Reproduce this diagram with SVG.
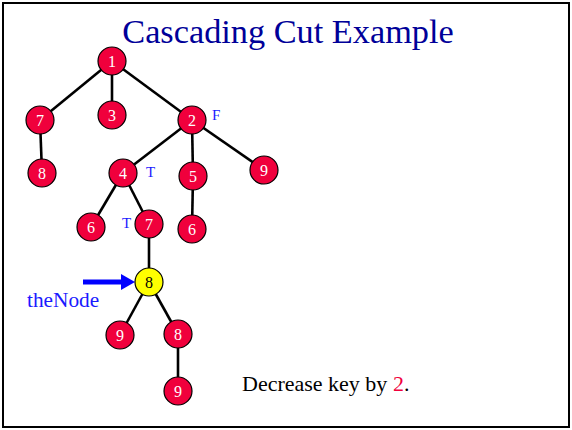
<svg xmlns="http://www.w3.org/2000/svg" width="572" height="430" viewBox="0 0 572 430">
<defs>
<style>
.n circle{fill:#f0003c;stroke:#000;stroke-width:1.2}
.n text{font-family:"Liberation Serif",serif;font-size:16px;fill:#fff;text-anchor:middle}
.y circle{fill:#ffff00}
.y text{fill:#000}
.e line{stroke:#000;stroke-width:2.6}
.lbl{font-family:"Liberation Serif",serif;fill:#1a1aff}
</style>
</defs>
<rect x="3" y="3" width="566" height="424" fill="#fff" stroke="#000" stroke-width="2"/>
<text x="288" y="43" font-family="Liberation Serif, serif" font-size="34.3" fill="#000099" text-anchor="middle">Cascading Cut Example</text>
<g id="connectors" class="e">
<line x1="112" y1="61" x2="40" y2="120"/>
<line x1="112" y1="61" x2="112" y2="115"/>
<line x1="112" y1="61" x2="192" y2="120"/>
<line x1="40" y1="120" x2="42" y2="173"/>
<line x1="192" y1="120" x2="123" y2="173"/>
<line x1="192" y1="120" x2="193" y2="176"/>
<line x1="192" y1="120" x2="264" y2="170"/>
<line x1="123" y1="173" x2="91" y2="227"/>
<line x1="123" y1="173" x2="149" y2="224"/>
<line x1="193" y1="176" x2="192" y2="229"/>
<line x1="149" y1="224" x2="149" y2="282"/>
<line x1="149" y1="282" x2="120" y2="335"/>
<line x1="149" y1="282" x2="178" y2="334"/>
<line x1="178" y1="334" x2="178" y2="391"/>
</g>
<g id="arrow">
<rect x="83" y="279.5" width="41" height="5" fill="#0000ff"/>
<polygon points="121,274 135,282 121,290" fill="#0000ff"/>
</g>
<g id="n1" class="n"><circle cx="112" cy="61" r="14"/><text x="112" y="66.5">1</text></g>
<g id="n7a" class="n"><circle cx="40" cy="120" r="14"/><text x="40" y="125.5">7</text></g>
<g id="n3" class="n"><circle cx="112" cy="115" r="14"/><text x="112" y="120.5">3</text></g>
<g id="n2" class="n"><circle cx="192" cy="120" r="14"/><text x="192" y="125.5">2</text></g>
<g id="n8a" class="n"><circle cx="42" cy="173" r="14"/><text x="42" y="178.5">8</text></g>
<g id="n4" class="n"><circle cx="123" cy="173" r="14"/><text x="123" y="178.5">4</text></g>
<g id="n5" class="n"><circle cx="193" cy="176" r="14"/><text x="193" y="181.5">5</text></g>
<g id="n9a" class="n"><circle cx="264" cy="170" r="14"/><text x="264" y="175.5">9</text></g>
<g id="n6a" class="n"><circle cx="91" cy="227" r="14"/><text x="91" y="232.5">6</text></g>
<g id="n7b" class="n"><circle cx="149" cy="224" r="14"/><text x="149" y="229.5">7</text></g>
<g id="n6b" class="n"><circle cx="192" cy="229" r="14"/><text x="192" y="234.5">6</text></g>
<g id="theNode" class="n y"><circle cx="149" cy="282" r="14"/><text x="149" y="287.5">8</text></g>
<g id="n9b" class="n"><circle cx="120" cy="335" r="14"/><text x="120" y="340.5">9</text></g>
<g id="n8b" class="n"><circle cx="178" cy="334" r="14"/><text x="178" y="339.5">8</text></g>
<g id="n9c" class="n"><circle cx="178" cy="391" r="14"/><text x="178" y="396.5">9</text></g>
<text class="lbl" x="212" y="120" font-size="15">F</text>
<text class="lbl" x="146" y="177" font-size="15">T</text>
<text class="lbl" x="122" y="228" font-size="15">T</text>
<text class="lbl" x="27" y="307" font-size="21.3">theNode</text>
<text x="242" y="391" font-family="Liberation Serif, serif" font-size="22" fill="#000">Decrease key by <tspan fill="#f0003c">2</tspan>.</text>
</svg>
